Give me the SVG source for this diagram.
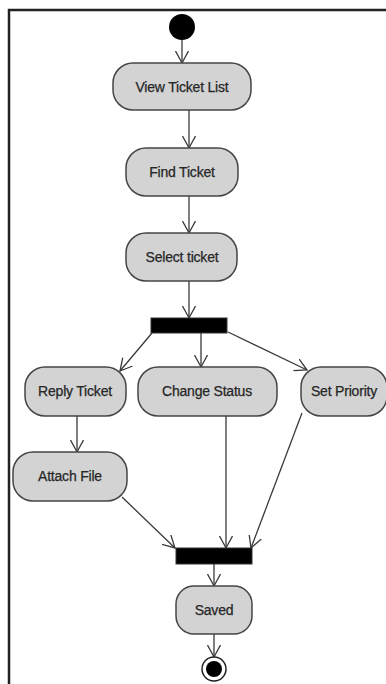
<svg xmlns="http://www.w3.org/2000/svg" width="386" height="684" viewBox="0 0 386 684">
  <style>
    .act { fill: #d3d3d3; stroke: #454545; stroke-width: 1.5; }
    .bar { fill: #000; stroke: #333; stroke-width: 1; }
    .lbl { font-family: "Liberation Sans", Arial, sans-serif; font-size: 14px; letter-spacing: -0.2px; fill: #262626; stroke: #262626; stroke-width: 0.25; text-anchor: middle; dominant-baseline: central; }
    .flow { fill: none; stroke: #3a3a3a; stroke-width: 1.3; marker-end: url(#open); }
    .frame { fill: none; stroke: #222; stroke-width: 2.5; }
  </style>
  <defs>
    <marker id="open" markerUnits="userSpaceOnUse" markerWidth="14" markerHeight="14" refX="12" refY="6.5" orient="auto" viewBox="0 0 14 13">
      <path d="M0,0 L12,6.5 L0,13" fill="none" stroke="#3a3a3a" stroke-width="1.3"/>
    </marker>
  </defs>

  <rect width="386" height="684" fill="#fff"/>
  <!-- activity frame (top and left edges) -->
  <path class="frame" d="M9,684 L9,10 L386,10"/>

  <!-- connectors -->
  <g id="connectors">
    <line class="flow" x1="182" y1="40" x2="182" y2="63"/>
    <line class="flow" x1="189" y1="110" x2="189" y2="148"/>
    <line class="flow" x1="189" y1="196" x2="189" y2="233"/>
    <line class="flow" x1="189" y1="281" x2="189" y2="318"/>
    <line class="flow" x1="152" y1="333" x2="120" y2="371"/>
    <line class="flow" x1="201" y1="333" x2="201" y2="367"/>
    <line class="flow" x1="228" y1="332" x2="307" y2="370"/>
    <line class="flow" x1="77" y1="416" x2="77" y2="452"/>
    <line class="flow" x1="122" y1="497" x2="175" y2="548"/>
    <line class="flow" x1="226" y1="416" x2="226" y2="548"/>
    <line class="flow" x1="302" y1="413" x2="251" y2="548"/>
    <line class="flow" x1="214" y1="564" x2="214" y2="586"/>
    <line class="flow" x1="214" y1="634" x2="214" y2="657"/>
  </g>

  <!-- nodes -->
  <g id="start"><circle cx="182" cy="27" r="13" fill="#000"/></g>

  <g id="view-ticket-list">
    <rect class="act" x="113" y="63" width="138" height="47" rx="20"/>
    <text class="lbl" x="182" y="87">View Ticket List</text>
  </g>
  <g id="find-ticket">
    <rect class="act" x="126" y="148" width="112" height="48" rx="20"/>
    <text class="lbl" x="182" y="172">Find Ticket</text>
  </g>
  <g id="select-ticket">
    <rect class="act" x="126" y="233" width="111" height="48" rx="20"/>
    <text class="lbl" x="182" y="257">Select ticket</text>
  </g>

  <g id="fork"><rect class="bar" x="151" y="318" width="76" height="15"/></g>

  <g id="reply-ticket">
    <rect class="act" x="25" y="367" width="101" height="49" rx="20"/>
    <text class="lbl" x="75" y="391">Reply Ticket</text>
  </g>
  <g id="change-status">
    <rect class="act" x="138" y="367" width="139" height="49" rx="20"/>
    <text class="lbl" x="207" y="391">Change Status</text>
  </g>
  <g id="set-priority">
    <rect class="act" x="301" y="367" width="86" height="49" rx="20"/>
    <text class="lbl" x="344" y="391">Set Priority</text>
  </g>
  <g id="attach-file">
    <rect class="act" x="13" y="452" width="114" height="49" rx="20"/>
    <text class="lbl" x="70" y="476">Attach File</text>
  </g>

  <g id="join"><rect class="bar" x="176" y="548" width="76" height="16"/></g>

  <g id="saved">
    <rect class="act" x="176" y="586" width="76" height="48" rx="18"/>
    <text class="lbl" x="214" y="610">Saved</text>
  </g>

  <g id="end">
    <circle cx="214" cy="669" r="12" fill="#fff" stroke="#222" stroke-width="1.5"/>
    <circle cx="214" cy="669" r="8" fill="#000"/>
  </g>
</svg>
